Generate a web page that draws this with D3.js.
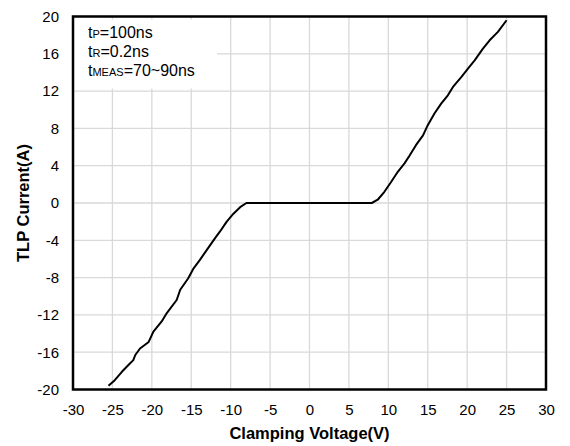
<!DOCTYPE html>
<html>
<head>
<meta charset="utf-8">
<script src="https://cdn.jsdelivr.net/npm/d3@7"></script>
<style>
  body { margin: 0; background: #fff; }
  svg { display: block; font-family: Arial, "Liberation Sans", sans-serif; }
</style>
</head>
<body>
<div id="chart"></div>
<script>
// TLP curve
var voltage = [-25.5, -24.7, -23.8, -23.0, -22.35, -22.1, -21.5, -20.4, -19.8, -18.75, -18.1,
  -16.85, -16.4, -15.4, -14.7, -13.9, -13.0, -12.0, -11.35, -10.5, -9.65, -8.8, -8.0,
  7.9, 8.65, 9.5, 10.35, 11.2, 12.05, 12.7, 13.5, 14.4, 15.0, 15.85, 16.7, 17.55, 18.2,
  19.25, 20.1, 20.95, 22.0, 22.85, 23.9, 25.0];
var current = [-19.6, -19.0, -18.1, -17.4, -16.85, -16.3, -15.6, -14.9, -13.8, -12.7, -11.8,
  -10.4, -9.3, -8.1, -7.0, -6.1, -5.0, -3.8, -3.05, -2.0, -1.15, -0.45, 0,
  0, 0.35, 1.2, 2.25, 3.35, 4.25, 5.1, 6.2, 7.25, 8.35, 9.6, 10.65, 11.55, 12.45,
  13.5, 14.4, 15.3, 16.55, 17.45, 18.35, 19.6];
var xTicks = [-30, -25, -20, -15, -10, -5, 0, 5, 10, 15, 20, 25, 30];
var yTicks = [-20, -16, -12, -8, -4, 0, 4, 8, 12, 16, 20];
var legendLines = [["t", "P", "=100ns"], ["t", "R", "=0.2ns"], ["t", "MEAS", "=70~90ns"]];

var width = 570, height = 446;
var plotL = 73, plotR = 546, plotT = 16.5, plotB = 389.5;

var svg = d3.select("#chart").append("svg")
  .attr("width", width)
  .attr("height", height);

var x = d3.scaleLinear().domain([-30, 30]).range([plotL, plotR]);
var y = d3.scaleLinear().domain([-20, 20]).range([plotB, plotT]);

// grid
svg.append("g").selectAll("line").data(xTicks).enter().append("line")
  .attr("x1", function(d) { return x(d); })
  .attr("x2", function(d) { return x(d); })
  .attr("y1", plotT).attr("y2", plotB)
  .attr("stroke", "#d9d9d9").attr("stroke-width", 1.3);
svg.append("g").selectAll("line").data(yTicks).enter().append("line")
  .attr("x1", plotL).attr("x2", plotR)
  .attr("y1", function(d) { return y(d); })
  .attr("y2", function(d) { return y(d); })
  .attr("stroke", "#d9d9d9").attr("stroke-width", 1.3);

// legend background covers the grid
svg.append("rect")
  .attr("x", plotL).attr("y", 19.5)
  .attr("width", 217 - plotL).attr("height", 69)
  .attr("fill", "#fff");

var leg = svg.append("text")
  .attr("x", 88).attr("y", 38)
  .attr("font-size", 16)
  .attr("fill", "#000");
legendLines.forEach(function(l, i) {
  leg.append("tspan").attr("x", 88).attr("y", 38 + i * 19).text(l[0]);
  leg.append("tspan").attr("font-size", 11).text(l[1]);
  leg.append("tspan").text(l[2]);
});

// curve
var pts = voltage.map(function(v, i) { return [v, current[i]]; });
var line = d3.line()
  .x(function(d) { return x(d[0]); })
  .y(function(d) { return y(d[1]); });
svg.append("path")
  .attr("d", line(pts))
  .attr("fill", "none")
  .attr("stroke", "#000")
  .attr("stroke-width", 2)
  .attr("stroke-linejoin", "round");

// frame
svg.append("rect")
  .attr("x", plotL).attr("y", plotT)
  .attr("width", plotR - plotL).attr("height", plotB - plotT)
  .attr("fill", "none").attr("stroke", "#000").attr("stroke-width", 2.5);

// axes (labels only)
var fmt = function(d) { return String(d); };
var xAxis = svg.append("g")
  .attr("transform", "translate(0," + plotB + ")")
  .call(d3.axisBottom(x).tickValues(xTicks).tickFormat(fmt).tickSize(0).tickPadding(15));
var yAxis = svg.append("g")
  .attr("transform", "translate(" + plotL + ",0)")
  .call(d3.axisLeft(y).tickValues(yTicks).tickFormat(fmt).tickSize(0).tickPadding(14));
[xAxis, yAxis].forEach(function(g) {
  g.select(".domain").remove();
  g.selectAll("text")
    .attr("font-size", 15)
    .attr("font-family", "Arial, 'Liberation Sans', sans-serif")
    .attr("fill", "#000");
});

svg.append("text")
  .attr("x", (plotL + plotR) / 2).attr("y", 439)
  .attr("text-anchor", "middle")
  .attr("font-size", 16.5).attr("font-weight", "bold")
  .text("Clamping Voltage(V)");

svg.append("text")
  .attr("transform", "translate(29," + ((plotT + plotB) / 2) + ") rotate(-90)")
  .attr("text-anchor", "middle")
  .attr("font-size", 16.5).attr("font-weight", "bold")
  .text("TLP Current(A)");
</script>
</body>
</html>
